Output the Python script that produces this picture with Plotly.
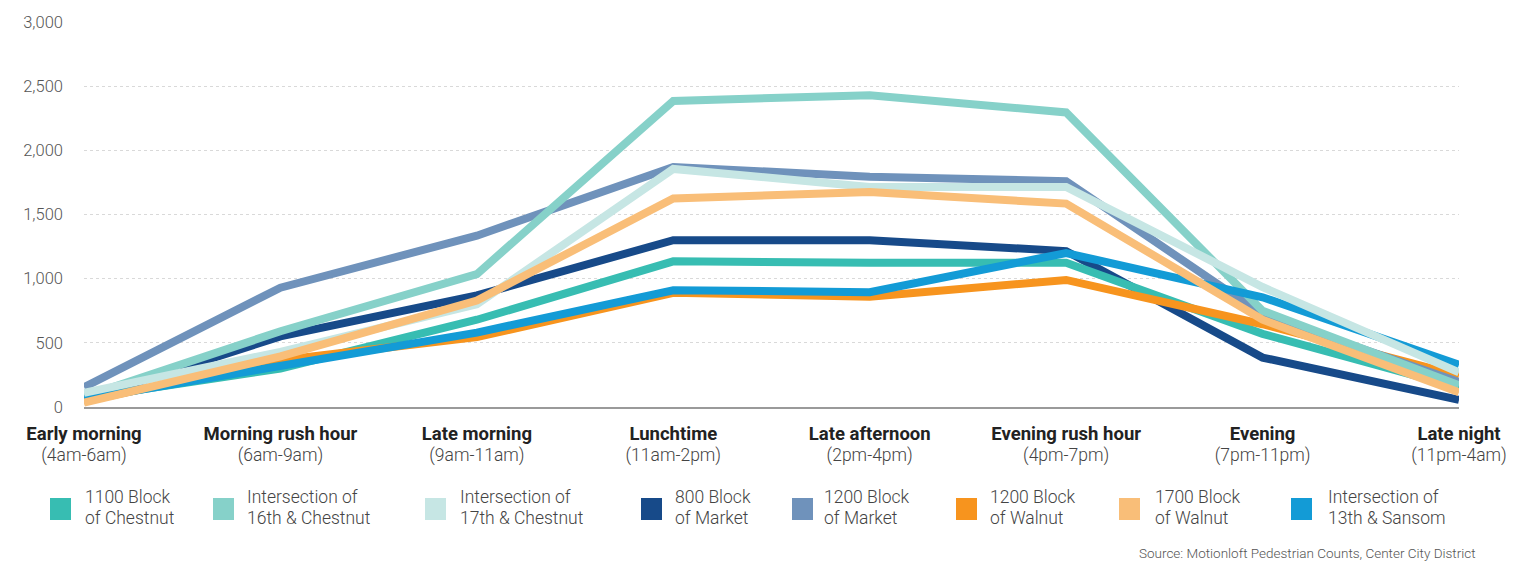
import plotly.graph_objects as go

# Time-of-day periods (x categories)
periods = ["Early morning", "Morning rush hour", "Late morning", "Lunchtime",
           "Late afternoon", "Evening rush hour", "Evening", "Late night"]
period_hours = ["(4am-6am)", "(6am-9am)", "(9am-11am)", "(11am-2pm)",
                "(2pm-4pm)", "(4pm-7pm)", "(7pm-11pm)", "(11pm-4am)"]

# Average pedestrian counts per location
chestnut_1100 = [70, 300, 680, 1135, 1125, 1125, 570, 150]
chestnut_16th = [80, 590, 1035, 2385, 2430, 2295, 750, 170]
chestnut_17th = [110, 430, 800, 1855, 1715, 1715, 935, 270]
market_800 = [60, 550, 870, 1300, 1300, 1215, 385, 55]
market_1200 = [155, 930, 1335, 1870, 1795, 1760, 720, 195]
walnut_1200 = [45, 365, 545, 890, 860, 990, 645, 245]
walnut_1700 = [35, 395, 830, 1625, 1675, 1585, 680, 115]
sansom_13th = [60, 320, 580, 910, 895, 1200, 855, 330]

y_ticks = [0, 500, 1000, 1500, 2000, 2500, 3000]

series = [
    ("1100 Block<br>of Chestnut", chestnut_1100, "#37BDB2"),
    ("Intersection of<br>16th & Chestnut", chestnut_16th, "#86D1C9"),
    ("Intersection of<br>17th & Chestnut", chestnut_17th, "#C6E6E4"),
    ("800 Block<br>of Market", market_800, "#174A89"),
    ("1200 Block<br>of Market", market_1200, "#6F92BB"),
    ("1200 Block<br>of Walnut", walnut_1200, "#F7941E"),
    ("1700 Block<br>of Walnut", walnut_1700, "#F9BE78"),
    ("Intersection of<br>13th & Sansom", sansom_13th, "#139BD6"),
]

# stacking order of the lines (bottom first)
draw_order = [3, 0, 5, 4, 1, 7, 2, 6]

W, H = 1524, 562
L, R, T, B = 84, 65, 22, 155
plot_w = W - L - R
plot_h = H - T - B

def px_x(px):
    return (px - L) / plot_w

def px_y(py):
    return (H - B - py) / plot_h

FONT = "Roboto"

fig = go.Figure()
for i in draw_order:
    name, vals, color = series[i]
    fig.add_trace(go.Scatter(
        x=periods, y=vals, mode="lines", name=name.replace("<br>", " "),
        line=dict(color=color, width=8), showlegend=False,
    ))

# the base font size sets the line pitch; spans set the visible size
tick_text = [
    f"<span style='font-size:18.5px;font-weight:700;color:#222'>{p}</span><br>"
    f"<span style='font-size:17.5px'>{h}</span>"
    for p, h in zip(periods, period_hours)
]

fig.update_xaxes(
    type="category", categoryorder="array", categoryarray=periods,
    range=[0, len(periods) - 1],
    tickmode="array", tickvals=periods, ticktext=tick_text,
    tickfont=dict(family=FONT, size=16.5, color="#444", weight=300),
    showgrid=False, showline=True, linecolor="#9a9a9a", linewidth=1.5,
    ticks="", ticklabelstandoff=11, zeroline=False,
)
fig.update_yaxes(
    range=[0, 3000], tickvals=y_ticks, tickformat=",",
    tickfont=dict(family=FONT, size=16.5, color="#555", weight=300),
    showgrid=True, gridcolor="#d9d9d9", gridwidth=1, griddash="dot",
    zeroline=False, showline=False, ticks="", ticklabelstandoff=20,
)

# legend: square swatch + two-line label per location
swatch_left = [50, 213, 425, 641, 792, 956, 1119, 1291]
label_left = [83, 245, 458, 673, 822, 988, 1153, 1326]
for (name, _, color), sx, lx in zip(series, swatch_left, label_left):
    fig.add_shape(type="rect", xref="paper", yref="paper",
                  x0=px_x(sx), x1=px_x(sx + 21), y0=px_y(520), y1=px_y(498),
                  fillcolor=color, line=dict(width=0))
    fig.add_annotation(xref="paper", yref="paper", x=px_x(lx), y=px_y(507),
                       text=f"<span style='font-size:17.5px'>{name}</span>",
                       showarrow=False, xanchor="left", yanchor="middle",
                       align="left",
                       font=dict(family=FONT, size=16, color="#444", weight=300))

fig.add_annotation(xref="paper", yref="paper", x=px_x(1478), y=px_y(553),
                   text="Source: Motionloft Pedestrian Counts, Center City District",
                   showarrow=False, xanchor="right", yanchor="middle",
                   font=dict(family=FONT, size=13.5, color="#555", weight=300))

fig.update_layout(
    width=W, height=H, margin=dict(l=L, r=R, t=T, b=B),
    paper_bgcolor="white", plot_bgcolor="white", showlegend=False,
)

fig.write_html("out.html")
